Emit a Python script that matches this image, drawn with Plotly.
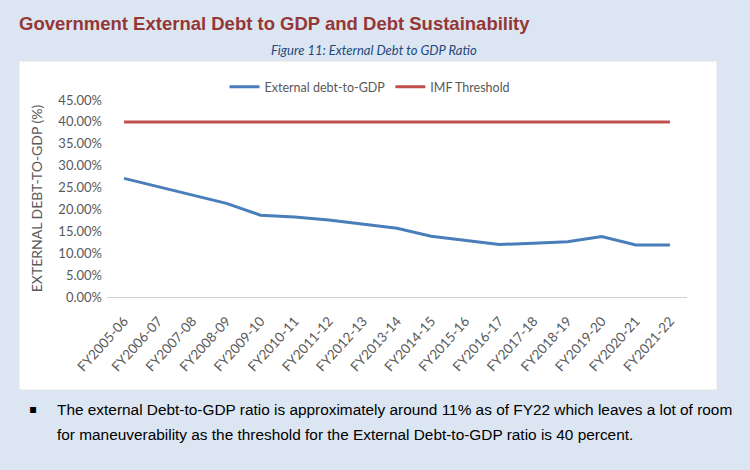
import plotly.graph_objects as go

categories = ["FY2005-06", "FY2006-07", "FY2007-08", "FY2008-09", "FY2009-10", "FY2010-11",
              "FY2011-12", "FY2012-13", "FY2013-14", "FY2014-15", "FY2015-16", "FY2016-17",
              "FY2017-18", "FY2018-19", "FY2019-20", "FY2020-21", "FY2021-22"]
external_debt = [27.1, 25.2, 23.3, 21.4, 18.7, 18.3, 17.6, 16.6, 15.7, 13.9, 13.0, 12.0,
                 12.3, 12.6, 13.8, 11.9, 11.9]
imf_threshold = [40.0] * len(categories)
y_ticks = [0, 5, 10, 15, 20, 25, 30, 35, 40, 45]

W, H = 750, 470
L, R, T, B = 107, 687, 100, 297


def px(x):
    return (x - L) / (R - L)


def py(y):
    return (B - y) / (B - T)


xs = list(range(len(categories)))

fig = go.Figure()
fig.add_trace(go.Scatter(x=xs, y=external_debt, mode="lines", name="External debt-to-GDP",
                         line=dict(color="#4a7ebb", width=3)))
fig.add_trace(go.Scatter(x=xs, y=imf_threshold, mode="lines", name="IMF Threshold",
                         line=dict(color="#c0504d", width=3)))

chart_font = "Lato, Noto Sans, sans-serif"
narrow = "Liberation Sans Narrow, Arial Narrow, Liberation Sans, sans-serif"

fig.update_layout(
    width=W, height=H,
    margin=dict(l=L, r=W - R, t=T, b=H - B),
    paper_bgcolor="#dce6f2",
    plot_bgcolor="#daeef3",
    showlegend=True,
    legend=dict(orientation="h", x=px(370), xanchor="center", y=py(87), yanchor="middle",
                font=dict(family=chart_font, size=12.5, color="#595959"),
                bgcolor="rgba(0,0,0,0)", itemwidth=30),
    xaxis=dict(range=[-0.5, len(categories) - 0.5], tickmode="array", tickvals=xs,
               ticktext=categories, tickangle=-48, ticklabelstandoff=10,
               tickfont=dict(family=chart_font, size=13.5, color="#595959"),
               showgrid=True, gridcolor="rgba(255,255,255,0.55)", gridwidth=1,
               minor=dict(tickmode="array", tickvals=[i - 0.5 for i in range(len(categories) + 1)],
                          showgrid=True, gridcolor="#ffffff", gridwidth=1.5, ticks=""),
               showline=True, linecolor="#d0d0d0", linewidth=1, zeroline=False, ticks=""),
    yaxis=dict(range=[0, 45], tickmode="array", tickvals=y_ticks,
               ticktext=[f"{v:.2f}%" for v in y_ticks],
               tickfont=dict(family=chart_font, size=13, color="#595959"),
               showgrid=True, gridcolor="#ffffff", gridwidth=1.5, zeroline=False,
               ticks="", ticklabelstandoff=4,
               title=dict(text="EXTERNAL DEBT-TO-GDP (%)", standoff=12,
                          font=dict(family=chart_font, size=14, color="#595959"))),
)

fig.add_shape(type="rect", xref="paper", yref="paper", x0=px(19), x1=px(717), y0=py(390), y1=py(61),
              fillcolor="#ffffff", line=dict(color="#e4e4e4", width=1), layer="below")

fig.add_annotation(text="<b>Government External Debt to GDP and Debt Sustainability</b>",
                   xref="paper", yref="paper", x=px(17), y=py(24), xanchor="left", yanchor="middle",
                   showarrow=False, font=dict(family=narrow, size=18.5, color="#953735"))
fig.add_annotation(text="<i>Figure 11: External Debt to GDP Ratio</i>",
                   xref="paper", yref="paper", x=px(374), y=py(50), xanchor="center", yanchor="middle",
                   showarrow=False, font=dict(family=chart_font, size=13, color="#1f497d"))
fig.add_annotation(text="▪", xref="paper", yref="paper", x=px(33), y=py(409), xanchor="center",
                   yanchor="middle", showarrow=False, font=dict(family="DejaVu Sans", size=12, color="#000000"))
fig.add_annotation(text="The external Debt-to-GDP ratio is approximately around 11% as of FY22 which leaves a lot of room",
                   xref="paper", yref="paper", x=px(55), y=py(409), xanchor="left", yanchor="middle",
                   showarrow=False, font=dict(family=narrow, size=15.4, color="#000000"))
fig.add_annotation(text="for maneuverability as the threshold for the External Debt-to-GDP ratio is 40 percent.",
                   xref="paper", yref="paper", x=px(55), y=py(434), xanchor="left", yanchor="middle",
                   showarrow=False, font=dict(family=narrow, size=15.4, color="#000000"))

fig.write_html("out.html", config={"displayModeBar": False},
               post_script="document.body.style.margin='0px';document.body.style.background='#dce6f2';")
